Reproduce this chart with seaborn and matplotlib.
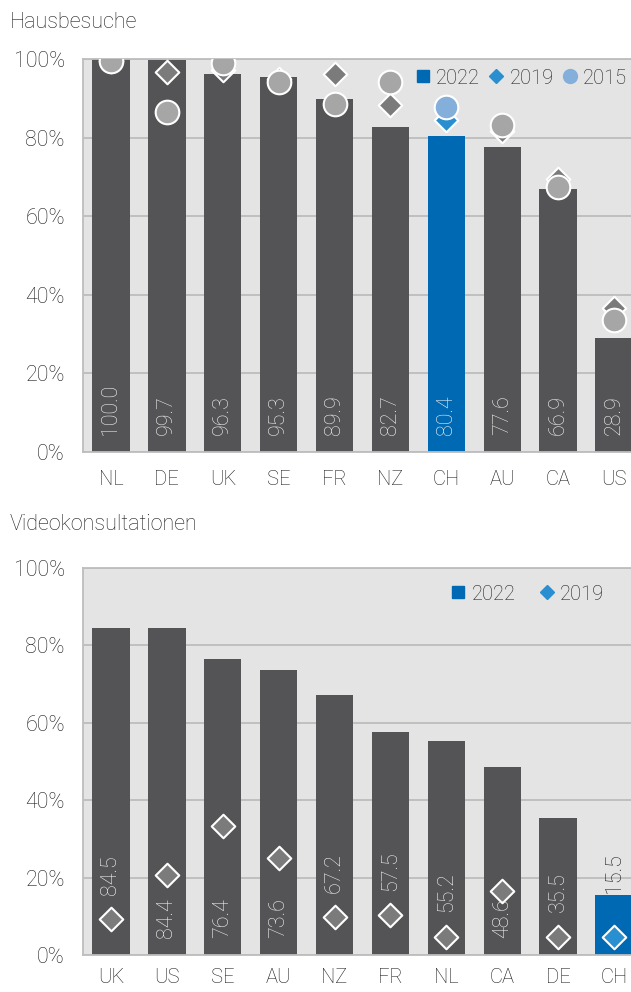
import matplotlib
matplotlib.use("Agg")
import matplotlib.pyplot as plt
from matplotlib.lines import Line2D
import seaborn as sns

# --- data ---------------------------------------------------------------
haus_countries = ["NL", "DE", "UK", "SE", "FR", "NZ", "CH", "AU", "CA", "US"]
haus_2022 = [100.0, 99.7, 96.3, 95.3, 89.9, 82.7, 80.4, 77.6, 66.9, 28.9]
haus_2019 = [99.5, 96.6, 97.3, 95.0, 96.1, 88.3, 84.5, 81.6, 69.5, 36.6]
haus_2015 = [99.5, 86.6, 99.1, 94.1, 88.5, 94.2, 87.9, 83.2, 67.5, 33.6]

video_countries = ["UK", "US", "SE", "AU", "NZ", "FR", "NL", "CA", "DE", "CH"]
video_2022 = [84.5, 84.4, 76.4, 73.6, 67.2, 57.5, 55.2, 48.6, 35.5, 15.5]
video_2019 = [9.2, 20.7, 33.4, 25.1, 9.7, 10.3, 4.7, 16.5, 4.7, 4.7]

yticks = [0, 20, 40, 60, 80, 100]

# --- style --------------------------------------------------------------
sns.set_style("white")
plt.rcParams["font.family"] = ["Roboto", "DejaVu Sans"]
plt.rcParams["font.weight"] = "light"

BAR = "#545456"
BLUE = "#0069b4"
DIA = "#7b7b7b"
DIA_CH = "#2a8fd0"
CIR = "#a6a6a6"
CIR_CH = "#85afdb"
TXT = "#1e1e1e"
LBL = "#f0f0f0"
FS = 15.5
FS_X = 14.5
FS_LEG = 14.5


def pal(countries, base, hl):
    return {c: (hl if c == "CH" else base) for c in countries}


def style_axes(ax, xpad):
    ax.set_facecolor("#e4e4e4")
    ax.set_xlim(-0.5, 9.5)
    ax.set_ylim(0, 100)
    ax.set_yticks(yticks)
    ax.set_yticklabels([f"{t}%" for t in yticks])
    ax.yaxis.grid(True, color="#bdbdbd", lw=1.3)
    ax.set_axisbelow(True)
    ax.tick_params(axis="both", length=0, colors=TXT)
    ax.tick_params(axis="y", pad=13, labelsize=FS)
    ax.tick_params(axis="x", pad=xpad, labelsize=FS_X)
    for s in ["left", "top", "bottom"]:
        ax.spines[s].set_color("#bdbdbd")
        ax.spines[s].set_linewidth(1.3)
    ax.spines["right"].set_visible(False)
    ax.set_xlabel("")
    ax.set_ylabel("")


fig = plt.figure(figsize=(6.31, 9.92), dpi=100)
ax1 = fig.add_axes([83 / 631, 1 - 452 / 992, 559 / 631, 393 / 992])
ax2 = fig.add_axes([83 / 631, 1 - 955 / 992, 559 / 631, 387 / 992])

# --- Hausbesuche --------------------------------------------------------
sns.barplot(x=haus_countries, y=haus_2022, hue=haus_countries,
            palette=pal(haus_countries, BAR, BLUE), order=haus_countries,
            width=0.67, saturation=1, linewidth=0, legend=False, ax=ax1,
            zorder=2)
sns.stripplot(x=haus_countries, y=haus_2019, hue=haus_countries,
              palette=pal(haus_countries, DIA, DIA_CH), order=haus_countries,
              jitter=False, marker="D", size=12, linewidth=1.5,
              edgecolor="white", legend=False, ax=ax1, zorder=3)
sns.stripplot(x=haus_countries, y=haus_2015, hue=haus_countries,
              palette=pal(haus_countries, CIR, CIR_CH), order=haus_countries,
              jitter=False, marker="o", size=17, linewidth=1.5,
              edgecolor="white", legend=False, ax=ax1, zorder=4)
for i, v in enumerate(haus_2022):
    ax1.text(i, 4.3, f"{v:.1f}", rotation=90, ha="center", va="bottom",
             color=LBL, fontsize=FS, zorder=5)
style_axes(ax1, 13)

h1 = [Line2D([], [], ls="none", marker="s", ms=9, color=BLUE),
      Line2D([], [], ls="none", marker="D", ms=7.5, color=DIA_CH),
      Line2D([], [], ls="none", marker="o", ms=10, color=CIR_CH)]
fig.legend(h1, ["2022", "2019", "2015"], ncol=3, frameon=False,
           loc="center right", bbox_to_anchor=(627 / 631, 1 - 78 / 992),
           bbox_transform=fig.transFigure, fontsize=FS_LEG, handlelength=0.7,
           handletextpad=0.3, columnspacing=0.45, borderaxespad=0,
           borderpad=0, labelcolor=TXT)

# --- Videokonsultationen ------------------------------------------------
sns.barplot(x=video_countries, y=video_2022, hue=video_countries,
            palette=pal(video_countries, BAR, BLUE), order=video_countries,
            width=0.67, saturation=1, linewidth=0, legend=False, ax=ax2,
            zorder=2)
sns.stripplot(x=video_countries, y=video_2019, hue=video_countries,
              palette=pal(video_countries, DIA, DIA_CH), order=video_countries,
              jitter=False, marker="D", size=12, linewidth=1.5,
              edgecolor="white", legend=False, ax=ax2, zorder=3)
for i, (v, d) in enumerate(zip(video_2022, video_2019)):
    if v < 20:
        y = v + 0.6
        col = TXT
    elif d < 12:
        y = d + 6.3
        col = LBL
    else:
        y = 4.3
        col = LBL
    ax2.text(i, y, f"{v:.1f}", rotation=90, ha="center", va="bottom",
             color=col, fontsize=FS, zorder=5)
style_axes(ax2, 9.5)

h2 = [Line2D([], [], ls="none", marker="s", ms=9, color=BLUE),
      Line2D([], [], ls="none", marker="D", ms=7.5, color=DIA_CH)]
fig.legend(h2, ["2022", "2019"], ncol=2, frameon=False,
           loc="center right", bbox_to_anchor=(604 / 631, 1 - 594 / 992),
           bbox_transform=fig.transFigure, fontsize=FS_LEG, handlelength=0.7,
           handletextpad=0.3, columnspacing=1.2, borderaxespad=0,
           borderpad=0, labelcolor=TXT)

# --- titles -------------------------------------------------------------
fig.text(10 / 631, 1 - 28 / 992, "Hausbesuche", fontsize=FS, color=TXT,
         va="baseline")
fig.text(10 / 631, 1 - 530 / 992, "Videokonsultationen", fontsize=FS,
         color=TXT, va="baseline")

fig.savefig("out.png", dpi=100)
